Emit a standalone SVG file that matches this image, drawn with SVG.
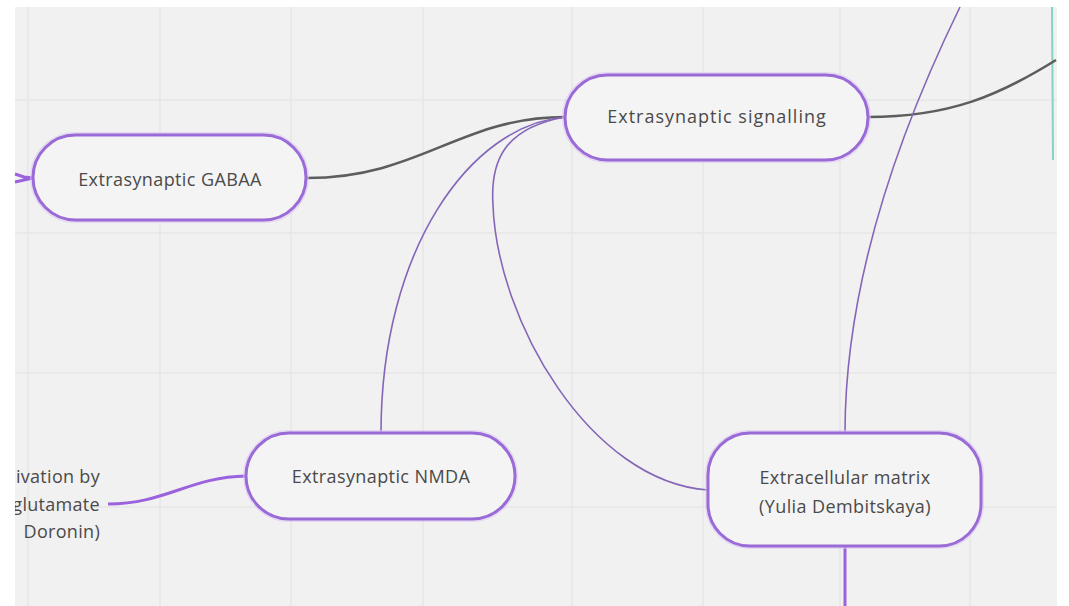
<svg xmlns="http://www.w3.org/2000/svg" width="1069" height="606" viewBox="0 0 1069 606">
<defs>
<style>
.grid{stroke:#e6e6e6;stroke-width:1.5}
.node{fill:#f4f4f4;stroke:#9a6ad6;stroke-width:3}
.glow{fill:none;stroke:#dcc8f5;stroke-width:6;opacity:0.6}
.lbl{font-family:"Open Sans","Noto Sans",sans-serif;font-size:18px;letter-spacing:0.4px;fill:#4a4a4a;text-anchor:middle}
.side{font-family:"Open Sans","Noto Sans",sans-serif;font-size:18px;letter-spacing:0.3px;fill:#4a4a4a;text-anchor:end}
.thin{fill:none;stroke:#8466b8;stroke-width:1.6}
.thick{fill:none;stroke:#9a62dc;stroke-width:3}
.grey{fill:none;stroke:#5d5d5d;stroke-width:2.6}
</style>
<clipPath id="clipL"><rect x="15" y="7" width="200" height="599"/></clipPath>
</defs>
<rect width="1069" height="606" fill="#ffffff"/>
<rect x="15" y="7" width="1042" height="599" fill="#f1f1f1"/>
<g id="grid">
<line class="grid" x1="28" y1="7" x2="28" y2="606"/>
<line class="grid" x1="160" y1="7" x2="160" y2="606"/>
<line class="grid" x1="291" y1="7" x2="291" y2="606"/>
<line class="grid" x1="423" y1="7" x2="423" y2="606"/>
<line class="grid" x1="572" y1="7" x2="572" y2="606"/>
<line class="grid" x1="703" y1="7" x2="703" y2="606"/>
<line class="grid" x1="840" y1="7" x2="840" y2="606"/>
<line class="grid" x1="970" y1="7" x2="970" y2="606"/>
<line class="grid" x1="15" y1="100" x2="1057" y2="100"/>
<line class="grid" x1="15" y1="233" x2="1057" y2="233"/>
<line class="grid" x1="15" y1="373" x2="1057" y2="373"/>
<line class="grid" x1="15" y1="507" x2="1057" y2="507"/>
</g>
<line x1="1052" y1="7" x2="1053" y2="160" stroke="#86d3c4" stroke-width="2"/>
<g id="connectors">
<path class="thick" d="M15,174 L24,177 L33,178 L24,180 L15,182"/>
<path class="grey" d="M307,178 C420,178 460,117 565,117"/>
<path class="grey" d="M868,117 C950,117 1000,95 1056,60"/>
<path class="thin" d="M565,117 C470,125 381,250 381,433"/>
<path class="thin" d="M565,117 C505,128 490,160 493,205 C497,320 590,482 708,490"/>
<path class="thin" d="M960,7 C900,130 845,280 845,433"/>
<path class="thick" d="M845,546 L845,606"/>
<path class="thick" d="M108,504 C165,504 190,477 246,476"/>
</g>
<g id="gabaa">
<rect class="glow" x="33" y="135" width="273" height="85" rx="42.5"/>
<rect class="node" x="33" y="135" width="273" height="85" rx="42.5"/>
<text class="lbl" x="170" y="186">Extrasynaptic GABAA</text>
</g>
<g id="signalling">
<rect class="glow" x="565" y="75" width="303" height="85" rx="42.5"/>
<rect class="node" x="565" y="75" width="303" height="85" rx="42.5"/>
<text class="lbl" x="717" y="123" style="letter-spacing:1px">Extrasynaptic signalling</text>
</g>
<g id="nmda">
<rect class="glow" x="246" y="433" width="269" height="86" rx="43"/>
<rect class="node" x="246" y="433" width="269" height="86" rx="43"/>
<text class="lbl" x="381" y="483">Extrasynaptic NMDA</text>
</g>
<g id="matrix">
<rect class="glow" x="708" y="433" width="273" height="113" rx="42"/>
<rect class="node" x="708" y="433" width="273" height="113" rx="42"/>
<text class="lbl" x="845" y="484">Extracellular matrix</text>
<text class="lbl" x="845" y="513">(Yulia Dembitskaya)</text>
</g>
<g id="activation" clip-path="url(#clipL)">
<text class="side" x="100" y="483">ivation by</text>
<text class="side" x="100" y="511">glutamate</text>
<text class="side" x="100" y="538">Doronin)</text>
</g>
</svg>
